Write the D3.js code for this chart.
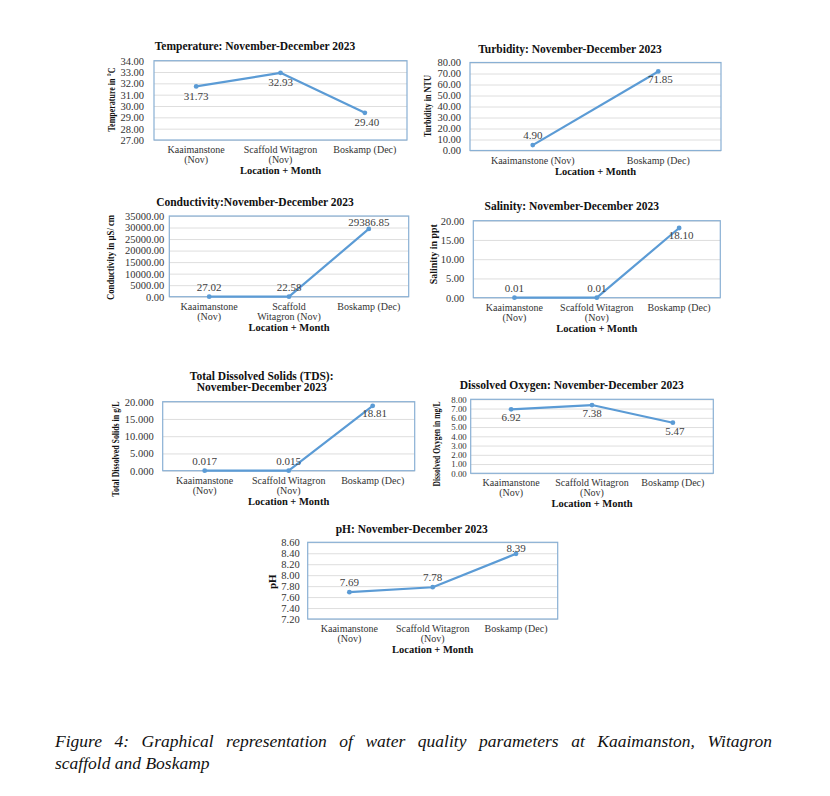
<!DOCTYPE html>
<html>
<head>
<meta charset="utf-8">
<script src="https://cdn.jsdelivr.net/npm/d3@7"></script>
<style>
  html, body { margin: 0; padding: 0; background: #fff; }
  #wrap { position: relative; width: 830px; height: 796px; }
  svg { position: absolute; left: 0; top: 0; }
  .cap {
    position: absolute; left: 55px; width: 717px;
    font-family: "Liberation Serif", "Times New Roman", serif; font-style: italic;
    font-size: 17.5px; line-height: 22px; color: #111; white-space: nowrap;
  }
  #cap1 { top: 730px; text-align: justify; text-align-last: justify; white-space: normal; }
  #cap2 { top: 752px; text-align: left; }
</style>
</head>
<body>
<div id="wrap">
<svg id="chart" width="830" height="796"></svg>
<div class="cap" id="cap1">Figure 4: Graphical representation of water quality parameters at Kaaimanston, Witagron</div>
<div class="cap" id="cap2">scaffold and Boskamp</div>
</div>
<script>
// ---------------- DATA ----------------
const categories3 = ["Kaaimanstone (Nov)", "Scaffold Witagron (Nov)", "Boskamp (Dec)"];
const categories2 = ["Kaaimanstone (Nov)", "Boskamp (Dec)"];

const temperatureValues = [31.73, 32.93, 29.40];
const turbidityValues = [4.90, 71.85];
const conductivityValues = [27.02, 22.58, 29386.85];
const salinityValues = [0.01, 0.01, 18.10];
const tdsValues = [0.017, 0.015, 18.81];
const oxygenValues = [6.92, 7.38, 5.47];
const phValues = [7.69, 7.78, 8.39];

const temperatureTicks = [27, 28, 29, 30, 31, 32, 33, 34];
const turbidityTicks = [0, 10, 20, 30, 40, 50, 60, 70, 80];
const conductivityTicks = [0, 5000, 10000, 15000, 20000, 25000, 30000, 35000];
const salinityTicks = [0, 5, 10, 15, 20];
const tdsTicks = [0, 5, 10, 15, 20];
const oxygenTicks = [0, 1, 2, 3, 4, 5, 6, 7, 8];
const phTicks = [7.2, 7.4, 7.6, 7.8, 8.0, 8.2, 8.4, 8.6];

// category tick label line-wrapping as printed
const catLinesA = [["Kaaimanstone", "(Nov)"], ["Scaffold Witagron", "(Nov)"], ["Boskamp (Dec)"]];
const catLinesB = [["Kaaimanstone", "(Nov)"], ["Scaffold", "Witagron (Nov)"], ["Boskamp (Dec)"]];
const catLinesC = [["Kaaimanstone (Nov)"], ["Boskamp (Dec)"]];

const xAxisTitle = "Location + Month";

// ---------------- CHART SPECS ----------------
const charts = [
  { title: ["Temperature: November-December 2023"], yTitle: "Temperature in °C",
    cats: categories3, catLines: catLinesA, values: temperatureValues, ticks: temperatureTicks,
    fmt: d3.format(".2f"), lfmt: d3.format(".2f"),
    box: { l: 154, t: 60.7, r: 407, b: 140 }, titlePos: [255, 45.7], yTitleX: 111, yTitleLen: 64, yTitleCY: 99.5,
    tickPad: 10, tickFont: 10.5, labelPos: ["below", "below", "below"], belowOff: 13.5 },
  { title: ["Turbidity: November-December 2023"], yTitle: "Turbidity in NTU",
    cats: categories2, catLines: catLinesC, values: turbidityValues, ticks: turbidityTicks,
    fmt: d3.format(".2f"), lfmt: d3.format(".2f"),
    box: { l: 470, t: 62.5, r: 721, b: 150.5 }, titlePos: [570, 49], yTitleX: 427, yTitleLen: 62, yTitleCY: 106,
    tickPad: 9, tickFont: 10.5, labelPos: ["above", "below"], belowOff: 11.5 },
  { title: ["Conductivity:November-December 2023"], yTitle: "Conductivity in µS/ cm",
    cats: categories3, catLines: catLinesB, values: conductivityValues, ticks: conductivityTicks,
    fmt: d3.format(".2f"), lfmt: d3.format(".2f"),
    box: { l: 169.3, t: 216, r: 408.7, b: 296.7 }, titlePos: [255, 202.3], yTitleX: 110.5, yTitleLen: 85, yTitleCY: 257.5,
    tickPad: 5, tickFont: 10.5, labelPos: ["above", "above", "above"], belowOff: 12 },
  { title: ["Salinity: November-December 2023"], yTitle: "Salinity in ppt",
    cats: categories3, catLines: catLinesA, values: salinityValues, ticks: salinityTicks,
    fmt: d3.format(".2f"), lfmt: d3.format(".2f"),
    box: { l: 473.3, t: 220.7, r: 720.3, b: 297.7 }, titlePos: [571.7, 206], yTitleX: 433.5, yTitleLen: 60, yTitleCY: 254.3,
    tickPad: 9, tickFont: 10.5, labelPos: ["above", "above", "below"], belowOff: 11 },
  { title: ["Total Dissolved Solids (TDS):", "November-December 2023"], yTitle: "Total Dissolved Solids in g/L",
    cats: categories3, catLines: catLinesA, values: tdsValues, ticks: tdsTicks,
    fmt: d3.format(".3f"), lfmt: d => d < 1 ? d3.format(".3f")(d) : d3.format(".2f")(d),
    box: { l: 162.7, t: 401.7, r: 414.7, b: 470.7 }, titlePos: [261.7, 375.7], yTitleX: 115, yTitleLen: 95, yTitleCY: 449,
    tickPad: 9, tickFont: 10.5, labelPos: ["above", "above", "below"], belowOff: 11.5 },
  { title: ["Dissolved Oxygen: November-December 2023"], yTitle: "Dissolved Oxygen in mg/L",
    cats: categories3, catLines: catLinesA, values: oxygenValues, ticks: oxygenTicks,
    fmt: d3.format(".2f"), lfmt: d3.format(".2f"),
    box: { l: 470.7, t: 399.3, r: 713.3, b: 473.3 }, titlePos: [571.7, 385], yTitleX: 436, yTitleLen: 85, yTitleCY: 444,
    tickPad: 4, tickFont: 8.8, labelPos: ["below", "below", "below"], belowOff: 12 },
  { title: ["pH: November-December 2023"], yTitle: "pH",
    cats: categories3, catLines: catLinesA, values: phValues, ticks: phTicks,
    fmt: d3.format(".2f"), lfmt: d3.format(".2f"),
    box: { l: 307.7, t: 542.3, r: 557.7, b: 619 }, titlePos: [411.7, 529.3], yTitleX: 272, yTitleLen: null, yTitleCY: 581.7,
    tickPad: 8, tickFont: 10.5, labelPos: ["above", "above", "above"], belowOff: 12 }
];

// ---------------- DRAW ----------------
const svg = d3.select("#chart");
svg.append("rect").attr("width", 830).attr("height", 796).attr("fill", "#fff");

const SERIF = "'Liberation Serif', 'Times New Roman', serif";
const LINE = "#5b9bd5";
const FRAME = "#89b0d4";
const GRID = "#dedede";
const TXT = "#333";

charts.forEach(c => {
  const g = svg.append("g");
  const { l, t, r, b } = c.box;
  const y = d3.scaleLinear().domain(d3.extent(c.ticks)).range([b, t]);
  const x = d3.scalePoint().domain(c.cats).range([l, r]).padding(0.5);

  // gridlines
  g.append("g").attr("transform", `translate(${l},0)`)
    .call(d3.axisLeft(y).tickValues(c.ticks).tickSize(-(r - l)).tickFormat(""))
    .call(s => s.select(".domain").remove())
    .call(s => s.selectAll("line").attr("stroke", GRID).attr("stroke-width", 1));

  // frame
  g.append("rect").attr("x", l).attr("y", t).attr("width", r - l).attr("height", b - t)
    .attr("fill", "none").attr("stroke", FRAME).attr("stroke-width", 1.2);

  // y tick labels
  g.append("g").attr("transform", `translate(${l},0)`)
    .call(d3.axisLeft(y).tickValues(c.ticks).tickSize(0).tickPadding(c.tickPad).tickFormat(c.fmt))
    .call(s => s.select(".domain").remove())
    .call(s => s.selectAll("text").attr("font-family", SERIF).attr("font-size", c.tickFont).attr("fill", TXT));

  // category labels
  c.cats.forEach((cat, i) => {
    const lines = c.catLines[i];
    const tx = g.append("text").attr("x", x(cat)).attr("y", b + 13)
      .attr("text-anchor", "middle").attr("font-family", SERIF).attr("font-size", 10).attr("fill", TXT);
    lines.forEach((ln, j) => {
      tx.append("tspan").attr("x", x(cat)).attr("dy", j === 0 ? 0 : 9.8).text(ln);
    });
  });
  const maxLines = d3.max(c.catLines, d => d.length);
  g.append("text").attr("x", (l + r) / 2).attr("y", b + (maxLines > 1 ? 34 : 24.5))
    .attr("text-anchor", "middle").attr("font-family", SERIF).attr("font-weight", "bold")
    .attr("font-size", 10.5).attr("fill", "#111").text(xAxisTitle);

  // y title
  const yt = g.append("text")
    .attr("transform", `translate(${c.yTitleX},${c.yTitleCY}) rotate(-90)`)
    .attr("text-anchor", "middle").attr("dominant-baseline", "central")
    .attr("font-family", SERIF).attr("font-weight", "bold").attr("font-size", c.yTitleLen ? 10 : 11)
    .attr("fill", "#111").text(c.yTitle);
  if (c.yTitleLen) yt.attr("textLength", c.yTitleLen).attr("lengthAdjust", "spacingAndGlyphs");

  // chart title
  c.title.forEach((tl, j) => {
    g.append("text").attr("x", c.titlePos[0]).attr("y", c.titlePos[1] + j * 11 + 4)
      .attr("text-anchor", "middle").attr("font-family", SERIF).attr("font-weight", "bold")
      .attr("font-size", 11.5).attr("fill", "#111").text(tl);
  });

  // line + markers
  const line = d3.line().x((d, i) => x(c.cats[i])).y(d => y(d));
  g.append("path").datum(c.values).attr("d", line)
    .attr("fill", "none").attr("stroke", LINE).attr("stroke-width", 2.2).attr("stroke-linejoin", "round");
  g.selectAll("circle.m").data(c.values).join("circle")
    .attr("cx", (d, i) => x(c.cats[i])).attr("cy", d => y(d)).attr("r", 2.4).attr("fill", LINE);

  // value labels (kept inside the plot area, as the spreadsheet does)
  g.selectAll("text.v").data(c.values).join("text")
    .attr("x", (d, i) => x(c.cats[i]) + (c.labelPos[i] === "below" && i === c.values.length - 1 ? 2 : 0))
    .attr("y", (d, i) => c.labelPos[i] === "below" ? y(d) + c.belowOff : Math.max(y(d) - 6, t + 10))
    .attr("text-anchor", "middle").attr("font-family", SERIF).attr("font-size", 11)
    .attr("fill", "#404040").text(d => c.lfmt(d));
});
</script>
</body>
</html>
